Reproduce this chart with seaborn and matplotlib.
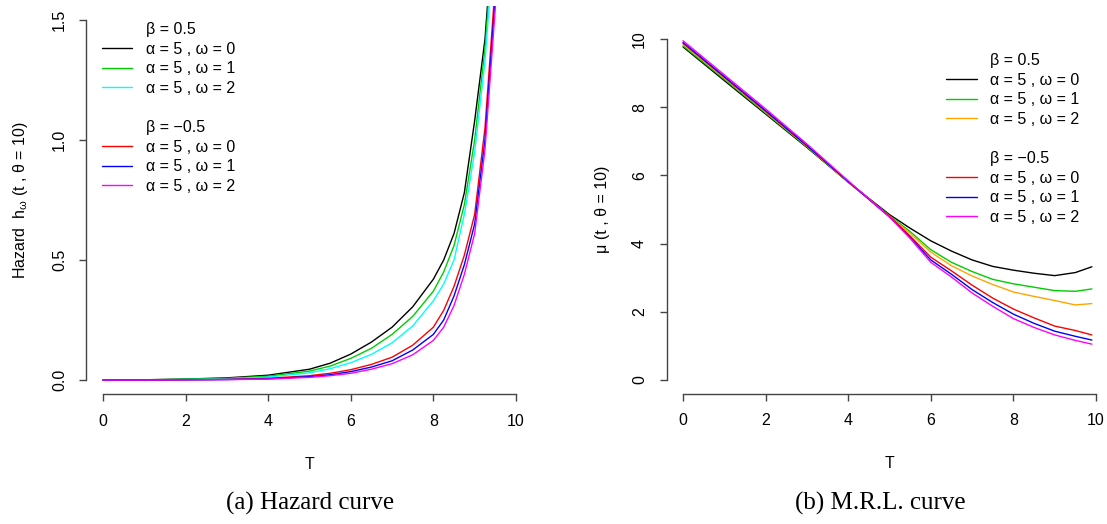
import matplotlib
matplotlib.use("Agg")

import matplotlib.pyplot as plt
from matplotlib.lines import Line2D
import seaborn as sns
import pandas as pd

# =========================================================
# DATA
# =========================================================

hazard_t = [0, 1, 2, 3, 4, 5, 5.5, 6, 6.5, 7, 7.5, 8, 8.25, 8.5, 8.75, 9, 9.25, 9.5, 9.75]

haz_pos_w0 = [0, 0.001, 0.004, 0.009, 0.02, 0.045, 0.07, 0.108, 0.158, 0.22, 0.305, 0.42, 0.50, 0.61, 0.78, 1.08, 1.42, 2.0, 3.0]
haz_pos_w1 = [0, 0.0008, 0.003, 0.007, 0.016, 0.037, 0.058, 0.09, 0.132, 0.19, 0.265, 0.37, 0.45, 0.56, 0.73, 1.0, 1.38, 1.95, 2.9]
haz_pos_w2 = [0, 0.0005, 0.002, 0.005, 0.012, 0.03, 0.047, 0.072, 0.107, 0.155, 0.225, 0.33, 0.40, 0.50, 0.69, 0.95, 1.33, 1.9, 2.8]
haz_neg_w0 = [0, 0.0003, 0.001, 0.003, 0.007, 0.018, 0.028, 0.043, 0.065, 0.095, 0.145, 0.22, 0.29, 0.39, 0.52, 0.69, 1.05, 1.65, 2.6]
haz_neg_w1 = [0, 0.0002, 0.0008, 0.002, 0.005, 0.014, 0.022, 0.035, 0.054, 0.08, 0.125, 0.19, 0.25, 0.35, 0.48, 0.65, 1.0, 1.6, 2.5]
haz_neg_w2 = [0, 0.0001, 0.0005, 0.0015, 0.004, 0.011, 0.018, 0.028, 0.045, 0.068, 0.105, 0.165, 0.22, 0.31, 0.44, 0.61, 0.96, 1.55, 2.4]

mrl_t = [0, 1, 2, 3, 4, 5, 5.5, 6, 6.5, 7, 7.5, 8, 8.5, 9, 9.5, 9.9]

mrl_pos_w0 = [9.77, 8.78, 7.80, 6.82, 5.80, 4.85, 4.45, 4.08, 3.78, 3.52, 3.33, 3.22, 3.13, 3.06, 3.15, 3.32]
mrl_pos_w1 = [9.80, 8.82, 7.83, 6.84, 5.80, 4.82, 4.35, 3.82, 3.45, 3.18, 2.95, 2.82, 2.72, 2.62, 2.60, 2.67]
mrl_pos_w2 = [9.85, 8.86, 7.86, 6.86, 5.80, 4.80, 4.30, 3.75, 3.35, 3.05, 2.80, 2.58, 2.45, 2.33, 2.20, 2.24]
mrl_neg_w0 = [9.88, 8.88, 7.88, 6.87, 5.82, 4.80, 4.22, 3.60, 3.20, 2.78, 2.40, 2.08, 1.82, 1.58, 1.45, 1.32]
mrl_neg_w1 = [9.90, 8.90, 7.90, 6.88, 5.82, 4.78, 4.18, 3.52, 3.10, 2.65, 2.27, 1.93, 1.66, 1.43, 1.28, 1.17]
mrl_neg_w2 = [9.95, 8.95, 7.95, 6.92, 5.84, 4.78, 4.15, 3.45, 3.02, 2.55, 2.16, 1.80, 1.54, 1.32, 1.16, 1.05]

series_names = ["pos_w0", "pos_w1", "pos_w2", "neg_w0", "neg_w1", "neg_w2"]
item_labels = ["α = 5 , ω = 0", "α = 5 , ω = 1", "α = 5 , ω = 2"]
group_labels = ["β = 0.5", "β = \u22120.5"]

hazard_colors = ["black", "#00CD00", "cyan", "red", "blue", "magenta"]
mrl_colors = ["black", "#00CD00", "orange", "red", "blue", "magenta"]


def long_frame(t, series):
    rows = []
    for name, vals in zip(series_names, series):
        for x, y in zip(t, vals):
            rows.append({"T": x, "value": y, "series": name})
    return pd.DataFrame(rows)


hazard_df = long_frame(hazard_t, [haz_pos_w0, haz_pos_w1, haz_pos_w2,
                                  haz_neg_w0, haz_neg_w1, haz_neg_w2])
mrl_df = long_frame(mrl_t, [mrl_pos_w0, mrl_pos_w1, mrl_pos_w2,
                            mrl_neg_w0, mrl_neg_w1, mrl_neg_w2])

# =========================================================
# STYLE
# =========================================================

sns.set_style("white")
plt.rcParams["font.family"] = ["Liberation Sans", "DejaVu Sans"]
plt.rcParams["mathtext.fontset"] = "custom"
plt.rcParams["mathtext.rm"] = "Liberation Sans"
plt.rcParams["mathtext.it"] = "Liberation Sans"
plt.rcParams["font.size"] = 11.5
plt.rcParams["text.color"] = "black"
plt.rcParams["axes.labelcolor"] = "black"
plt.rcParams["xtick.color"] = "black"
plt.rcParams["ytick.color"] = "black"

FS = 11.5


def r_axes(ax, xlim, ylim, xticks, yticks):
    ax.set_xlim(*xlim)
    ax.set_ylim(*ylim)
    ax.set_xticks(xticks)
    ax.set_yticks(yticks)
    for side in ["top", "right"]:
        ax.spines[side].set_visible(False)
    ax.spines["left"].set_bounds(yticks[0], yticks[-1])
    ax.spines["bottom"].set_bounds(xticks[0], xticks[-1])
    for side in ["left", "bottom"]:
        ax.spines[side].set_color("#444444")
        ax.spines[side].set_linewidth(1.0)
    ax.tick_params(axis="both", direction="out", length=5, width=1.0,
                   color="#444444", labelcolor="black", labelsize=FS,
                   pad=9, left=True, bottom=True)
    ax.set_facecolor("white")


def r_legend(ax, colors, anchor):
    blank = Line2D([], [], color="none")
    handles = [blank]
    labels = [group_labels[0]]
    for c, lab in zip(colors[:3], item_labels):
        handles.append(Line2D([], [], color=c, lw=1.0))
        labels.append(lab)
    handles.append(blank)
    labels.append(" ")
    handles.append(blank)
    labels.append(group_labels[1])
    for c, lab in zip(colors[3:], item_labels):
        handles.append(Line2D([], [], color=c, lw=1.0))
        labels.append(lab)
    leg = ax.legend(handles, labels, loc="upper left", bbox_to_anchor=anchor,
                    frameon=False, fontsize=FS, handlelength=1.9,
                    handletextpad=0.85, labelspacing=0.29, borderpad=0,
                    borderaxespad=0)
    for txt in leg.get_texts():
        txt.set_color("black")


# =========================================================
# FIGURE
# =========================================================

fig = plt.figure(figsize=(11.07, 5.24), dpi=100)

ax1 = fig.add_axes([0.0781, 0.2473, 0.4029, 0.742])
ax2 = fig.add_axes([0.6021, 0.2489, 0.4029, 0.7026])

sns.lineplot(data=hazard_df, x="T", y="value", hue="series",
             palette=dict(zip(series_names, hazard_colors)),
             linewidth=1.0, legend=False, sort=True, ax=ax1)
r_axes(ax1, (-0.4, 10.4), (-0.06, 1.56), [0, 2, 4, 6, 8, 10],
       [0.0, 0.5, 1.0, 1.5])
ax1.set_yticklabels(["0.0", "0.5", "1.0", "1.5"], rotation=90, va="center")
ax1.set_xlabel("T", fontsize=FS, labelpad=20)
ax1.set_ylabel("Hazard  h$_{\\omega}$ (t , θ = 10)", fontsize=FS, labelpad=16)
r_legend(ax1, hazard_colors, (0.035, 0.958))

sns.lineplot(data=mrl_df, x="T", y="value", hue="series",
             palette=dict(zip(series_names, mrl_colors)),
             linewidth=1.0, legend=False, sort=True, ax=ax2)
r_axes(ax2, (-0.4, 10.4), (-0.4, 10.4), [0, 2, 4, 6, 8, 10],
       [0, 2, 4, 6, 8, 10])
ax2.set_yticklabels(["0", "2", "4", "6", "8", "10"], rotation=90, va="center")
ax2.set_xlabel("T", fontsize=FS, labelpad=20)
ax2.set_ylabel("μ (t , θ = 10)", fontsize=FS, labelpad=16)
r_legend(ax2, mrl_colors, (0.627, 0.925))

fig.text(0.280, 0.040, "(a) Hazard curve", ha="center", va="center",
         fontsize=18, family=["Liberation Serif", "DejaVu Serif"])
fig.text(0.795, 0.040, "(b) M.R.L. curve", ha="center", va="center",
         fontsize=18, family=["Liberation Serif", "DejaVu Serif"])

fig.savefig("out.png", dpi=100, facecolor="white")
plt.close(fig)
